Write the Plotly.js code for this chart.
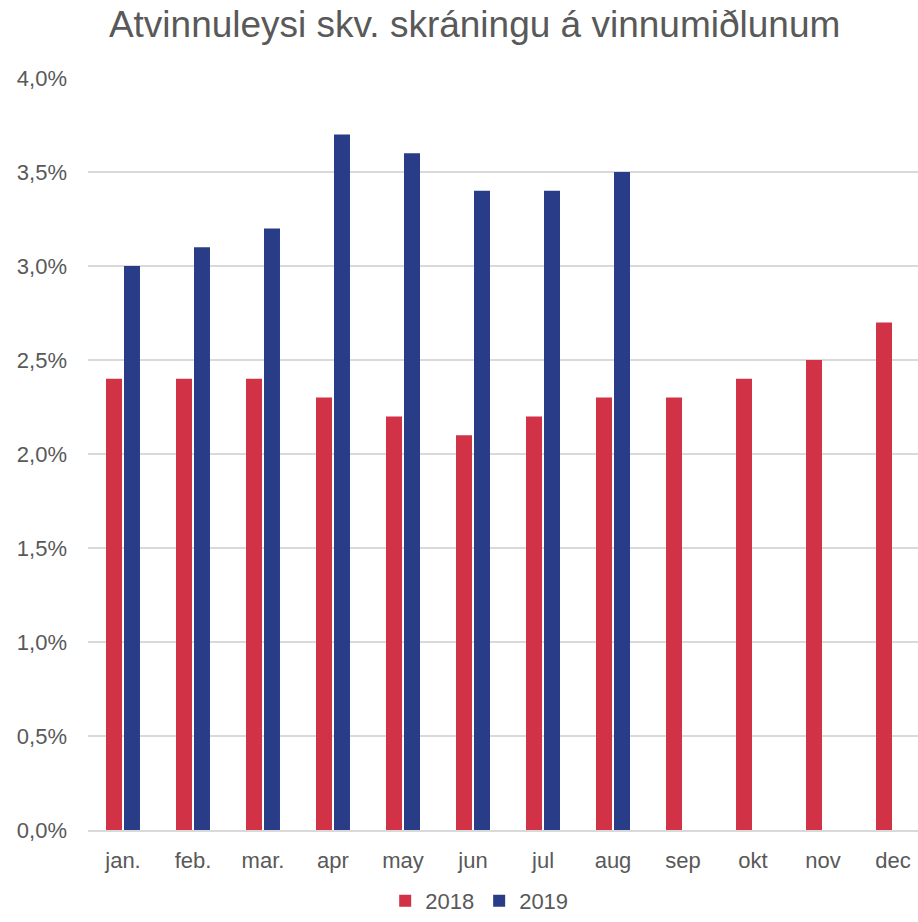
<!DOCTYPE html>
<html>
<head>
<meta charset="utf-8">
<script src="https://cdn.plot.ly/plotly-3.0.1.min.js"></script>
<style>html,body{margin:0;padding:0;background:#fff;}#chart{width:918px;height:922px;}</style>
</head>
<body>
<div id="chart"></div>
<script>
const months = ["jan.","feb.","mar.","apr","may","jun","jul","aug","sep","okt","nov","dec"];
const values2018 = [0.024,0.024,0.024,0.023,0.022,0.021,0.022,0.023,0.023,0.024,0.025,0.027];
const values2019 = [0.030,0.031,0.032,0.037,0.036,0.034,0.034,0.035,null,null,null,null];
const seriesNames = ["2018","2019"];
const titleText = "Atvinnuleysi skv. skráningu á vinnumiðlunum";

const font = "Liberation Sans, Arial, sans-serif";
const grey = "#595959";

const idx = months.map((m,i)=>i);
const traces = [
  {type:"bar", name:seriesNames[0], x:idx, y:values2018, marker:{color:"#D13245"}, hoverinfo:"y"},
  {type:"bar", name:seriesNames[1], x:idx, y:values2019, marker:{color:"#283C88"}, hoverinfo:"y"}
];

const layout = {
  width:918, height:922,
  paper_bgcolor:"#fff", plot_bgcolor:"#fff",
  separators:",.",
  font:{family:font, color:grey, size:22},
  margin:{l:88, r:0, t:78, b:92, pad:0},
  title:{text:titleText, font:{family:font, size:37, color:grey}, xref:"container", x:0.517, xanchor:"center", yref:"container", y:0.974, yanchor:"middle"},
  barmode:"group", bargap:0.486, bargroupgap:0.111,
  xaxis:{tickmode:"array", tickvals:idx, ticktext:months, range:[-0.5, 11.357], showgrid:false, zeroline:false,
         showline:true, linecolor:"#d9d9d9", linewidth:2, ticks:"", ticklabelstandoff:10, tickfont:{size:22, color:grey}, fixedrange:true},
  yaxis:{range:[0,0.04], dtick:0.005, tickformat:".1%", showgrid:true, gridcolor:"#d9d9d9", gridwidth:1.5, zeroline:false,
         showline:false, ticks:"", ticklabelstandoff:20, tickfont:{size:22, color:grey}, fixedrange:true},
  showlegend:true,
  legend:{orientation:"h", xref:"container", x:0.522, xanchor:"center", yref:"container", y:-0.007, yanchor:"bottom",
          font:{size:22, color:grey}, itemwidth:30, traceorder:"normal", tracegroupgap:0}
};
Plotly.newPlot("chart", traces, layout, {displayModeBar:false, staticPlot:true});
</script>
</body>
</html>
